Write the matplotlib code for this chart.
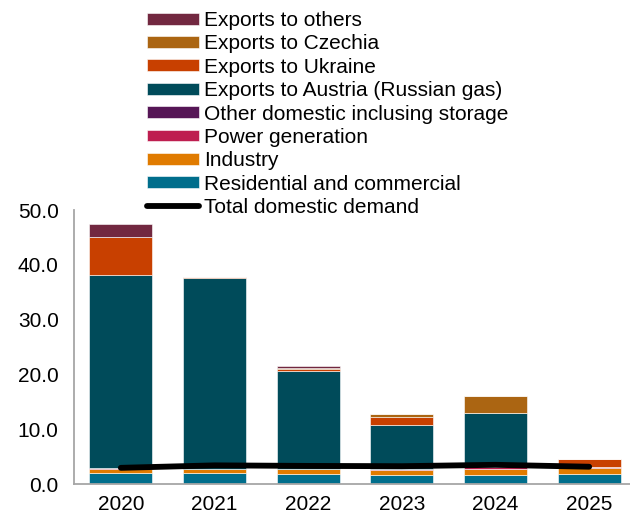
import matplotlib
matplotlib.use("Agg")
from matplotlib import pyplot as plt
from matplotlib.lines import Line2D
import numpy as np

plt.rcParams["font.family"] = ["Liberation Sans", "DejaVu Sans"]

years = ["2020", "2021", "2022", "2023", "2024", "2025"]

residential = [1.95, 2.05, 1.9, 1.7, 1.7, 1.8]
industry = [0.85, 0.65, 0.8, 0.9, 1.1, 1.2]
power = [0.15, 0.1, 0.05, 0.05, 0.3, 0.05]
other_domestic = [0.0, 0.0, 0.0, 0.0, 0.0, 0.1]
exp_austria = [35.15, 34.8, 17.85, 8.1, 9.8, 0.0]
exp_ukraine = [6.9, 0.25, 0.4, 1.45, 0.0, 1.45]
exp_czechia = [0.0, 0.0, 0.1, 0.6, 3.1, 0.0]
exp_others = [2.4, 0.0, 0.45, 0.05, 0.05, 0.0]
total_domestic = [2.95, 3.4, 3.3, 3.25, 3.5, 3.15]

series = [
    ("Residential and commercial", residential, "#006E8C"),
    ("Industry", industry, "#E07B00"),
    ("Power generation", power, "#BE1E50"),
    ("Other domestic inclusing storage", other_domestic, "#561656"),
    ("Exports to Austria (Russian gas)", exp_austria, "#004B5A"),
    ("Exports to Ukraine", exp_ukraine, "#C84000"),
    ("Exports to Czechia", exp_czechia, "#AB6512"),
    ("Exports to others", exp_others, "#722840"),
]

fig = plt.figure(figsize=(6.3, 5.15), dpi=100)
ax = fig.add_axes([74 / 630, 1 - 484 / 515, 562 / 630, 274 / 515])

x = np.arange(len(years))
bottom = np.zeros(len(years))
handles = []
for label, vals, col in series:
    b = ax.bar(x, vals, 0.67, bottom=bottom, color=col, edgecolor="white",
               linewidth=0.4, label=label)
    bottom += np.array(vals)
    handles.append(b)

line, = ax.plot(x, total_domestic, color="black", linewidth=4.2,
                solid_capstyle="round", label="Total domestic demand")

ax.set_xlim(-0.5, 5.5)
ax.set_ylim(0, 50)
ax.set_yticks(np.arange(0, 51, 10))
ax.set_yticklabels([f"{v:.1f}" for v in np.arange(0, 51, 10)])
ax.set_xticks(x)
ax.set_xticklabels(years)
ax.tick_params(axis="both", length=0, labelsize=15)
ax.tick_params(axis="y", pad=11)
ax.tick_params(axis="x", pad=8)
for s in ["top", "right"]:
    ax.spines[s].set_visible(False)
for s in ["left", "bottom"]:
    ax.spines[s].set_color("#A6A6A6")
    ax.spines[s].set_linewidth(1.3)

leg_handles = handles[::-1] + [Line2D([0], [0], color="black", linewidth=4.2,
                                      solid_capstyle="round")]
leg_labels = [s[0] for s in series[::-1]] + ["Total domestic demand"]
fig.legend(leg_handles, leg_labels, loc="upper left",
           bbox_to_anchor=(147 / 630, 1 - 11 / 515), frameon=False,
           fontsize=15, handlelength=2.5, handleheight=0.5,
           handletextpad=0.25, labelspacing=0.21, borderpad=0,
           borderaxespad=0)

fig.savefig("out.png", dpi=100)
